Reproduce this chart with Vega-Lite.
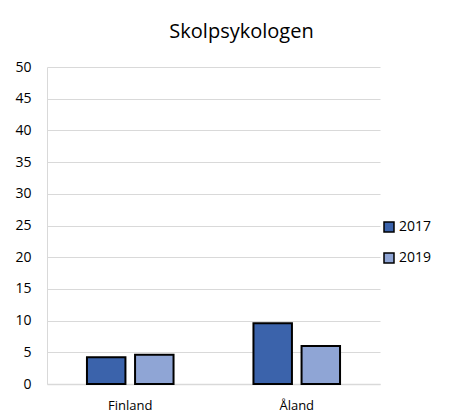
{
  "$schema": "https://vega.github.io/schema/vega-lite/v6.json",
  "autosize": "none",
  "width": 333,
  "height": 317,
  "padding": {"left": 47, "top": 67, "right": 89, "bottom": 30},
  "background": "white",
  "title": {"text": "Skolpsykologen", "fontSize": 20, "font": "Open Sans", "fontWeight": "normal", "color": "#000000", "offset": 18, "anchor": "middle", "dx": 28},
  "data": {"values": [
    {"land": "Finland", "year": "2017", "value": 4.2},
    {"land": "Finland", "year": "2019", "value": 4.6},
    {"land": "Åland", "year": "2017", "value": 9.6},
    {"land": "Åland", "year": "2019", "value": 6.0}
  ]},
  "mark": {"type": "bar", "stroke": "#000000", "strokeWidth": 2},
  "encoding": {
    "x": {"field": "land", "type": "nominal", "sort": ["Finland", "Åland"], "title": null,
      "scale": {"paddingInner": 0.48, "paddingOuter": 0.24},
      "axis": {"labelAngle": 0, "labelFont": "Open Sans", "labelFontSize": 13, "labelColor": "#000000", "labelPadding": 15, "ticks": false, "domainColor": "#d9d9d9", "domainWidth": 1.5}},
    "xOffset": {"field": "year", "type": "nominal", "scale": {"paddingInner": 0.2}},
    "y": {"field": "value", "type": "quantitative", "title": null,
      "scale": {"domain": [0, 50]},
      "axis": {"values": [0,5,10,15,20,25,30,35,40,45,50], "labelFont": "Open Sans", "labelFontSize": 14, "labelColor": "#000000", "labelPadding": 16, "ticks": false, "domain": true, "domainColor": "#d9d9d9", "gridColor": "#d9d9d9", "gridWidth": 1.2}},
    "color": {"field": "year", "type": "nominal",
      "scale": {"domain": ["2017", "2019"], "range": ["#3b63ab", "#8fa5d5"]},
      "legend": {"title": null, "orient": "none", "legendX": 335, "legendY": 153, "symbolType": "square", "symbolSize": 100, "symbolStrokeColor": "#000000", "symbolStrokeWidth": 1.5, "labelFont": "Open Sans", "labelFontSize": 14, "labelColor": "#000000", "rowPadding": 15, "labelOffset": 3}}
  },
  "config": {"view": {"stroke": null}}
}
